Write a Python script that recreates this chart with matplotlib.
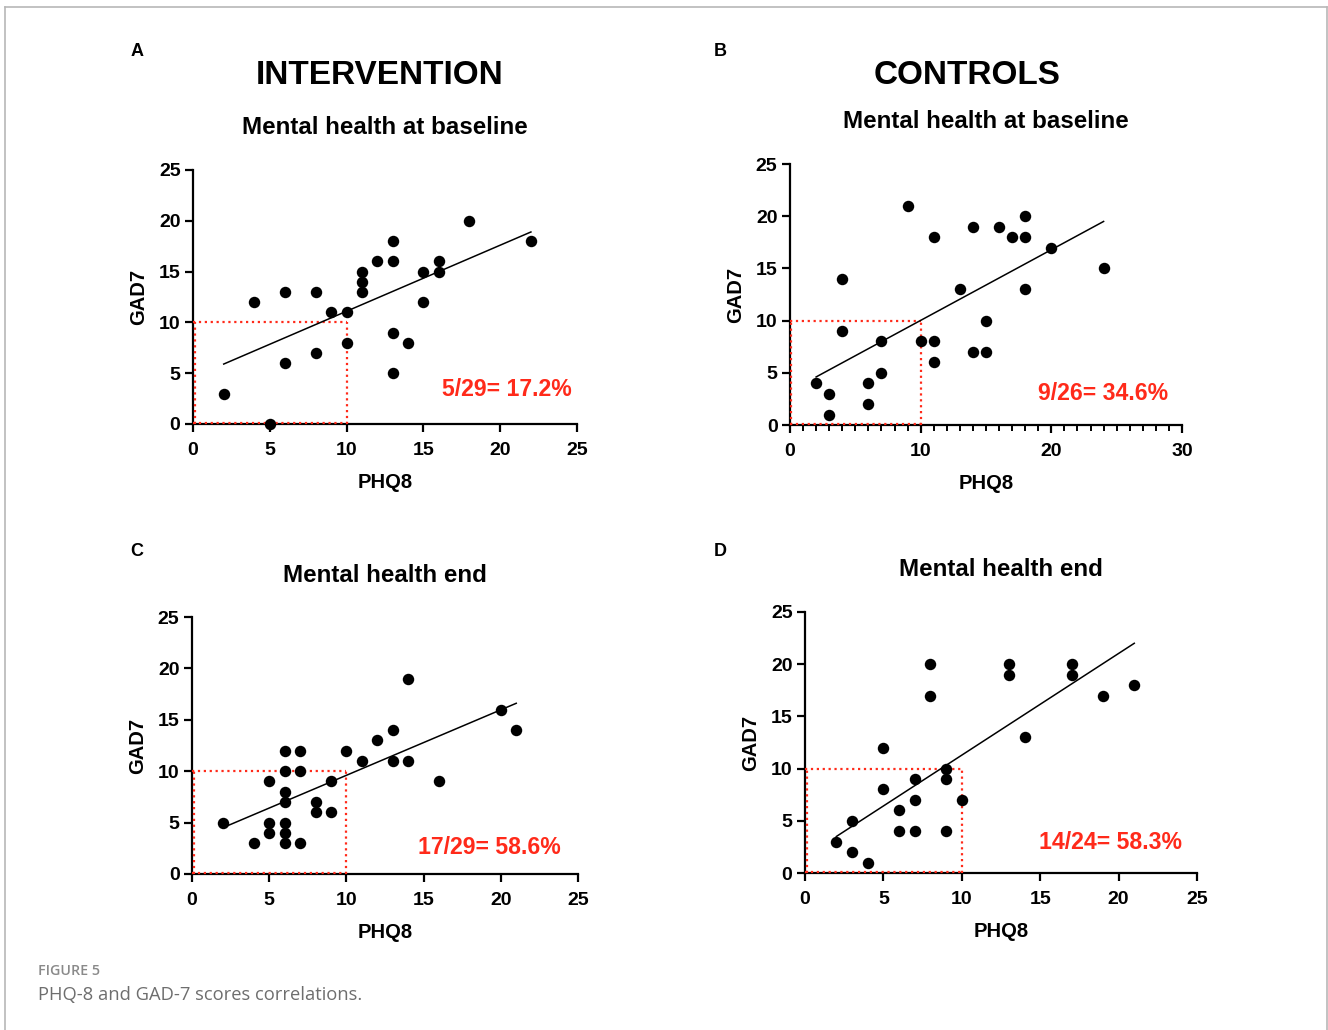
import matplotlib
matplotlib.use("Agg")
import matplotlib.pyplot as plt
from matplotlib.lines import Line2D
from matplotlib.ticker import MultipleLocator
import numpy as np

plt.rcParams['font.family'] = ['Liberation Sans', 'DejaVu Sans']
plt.rcParams['font.weight'] = 'bold'
plt.rcParams['axes.labelweight'] = 'bold'

# ---- data ----
a_x = [2, 4, 5, 6, 6, 8, 8, 9, 10, 10, 11, 11, 11, 12, 13, 13, 13, 13, 14, 15, 15, 16, 16, 18, 22]
a_y = [3, 12, 0, 13, 6, 13, 7, 11, 11, 8, 15, 14, 13, 16, 18, 16, 9, 5, 8, 15, 12, 16, 15, 20, 18]
a_fit = (0.65, 4.6)
a_label = "5/29= 17.2%"

b_x = [2, 3, 3, 4, 4, 6, 6, 7, 7, 9, 10, 11, 11, 11, 13, 14, 14, 15, 15, 16, 17, 18, 18, 18, 20, 24]
b_y = [4, 3, 1, 14, 9, 4, 2, 8, 5, 21, 8, 18, 8, 6, 13, 19, 7, 10, 7, 19, 18, 20, 18, 13, 17, 15]
b_fit = (0.677, 3.25)
b_label = "9/26= 34.6%"

c_x = [2, 4, 5, 5, 5, 6, 6, 6, 6, 6, 6, 6, 7, 7, 7, 8, 8, 9, 9, 10, 11, 12, 13, 13, 14, 14, 16, 20, 21]
c_y = [5, 3, 9, 5, 4, 12, 10, 8, 7, 5, 4, 3, 12, 10, 3, 7, 6, 9, 6, 12, 11, 13, 14, 11, 19, 11, 9, 16, 14]
c_fit = (0.637, 3.23)
c_label = "17/29= 58.6%"

d_x = [2, 3, 3, 4, 5, 5, 6, 6, 7, 7, 7, 8, 8, 9, 9, 9, 10, 13, 13, 14, 17, 17, 19, 21]
d_y = [3, 5, 2, 1, 12, 8, 6, 4, 9, 7, 4, 20, 17, 10, 9, 4, 7, 20, 19, 13, 20, 19, 17, 18]
d_fit = (0.974, 1.55)
d_label = "14/24= 58.3%"

threshold = 10
W, H = 1328, 1030

fig = plt.figure(figsize=(W / 100, H / 100), dpi=100)
fig.patch.set_facecolor('white')

def px_rect(l, r, t, b):
    return [l / W, 1 - b / H, (r - l) / W, (b - t) / H]

panels = [
    (a_x, a_y, a_fit, a_label, px_rect(193, 577, 170, 424), 25, (0.987, 0.134)),
    (b_x, b_y, b_fit, b_label, px_rect(790, 1182, 164, 425), 30, (0.964, 0.119)),
    (c_x, c_y, c_fit, c_label, px_rect(192, 578, 617, 874), 25, (0.956, 0.105)),
    (d_x, d_y, d_fit, d_label, px_rect(805, 1197, 612, 873), 25, (0.962, 0.115)),
]

red = '#ff2a1a'
for xs, ys, fit, lab, rect, xmax, lpos in panels:
    ax = fig.add_axes(rect)
    ax.set_xlim(0, xmax)
    ax.set_ylim(0, 25)
    for s in ['top', 'right']:
        ax.spines[s].set_visible(False)
    for s in ['left', 'bottom']:
        ax.spines[s].set_linewidth(1.6)
    ax.tick_params(axis='both', which='major', direction='out', length=6, width=1.6,
                   labelsize=14)
    ax.tick_params(axis='x', which='major', pad=7)
    ax.tick_params(axis='y', which='major', pad=3)
    ax.xaxis.set_major_locator(MultipleLocator(10 if xmax == 30 else 5))
    ax.yaxis.set_major_locator(MultipleLocator(5))
    if xmax == 30:
        ax.xaxis.set_minor_locator(MultipleLocator(1))
        ax.tick_params(axis='x', which='minor', direction='out', length=4, width=1.4)
    ax.set_xlabel('PHQ8', fontsize=14.5, fontweight='bold', labelpad=10)
    ax.set_ylabel('GAD7', fontsize=14.5, fontweight='bold', labelpad=8)
    # threshold box
    ax.plot([0, threshold], [threshold, threshold], ls=':', color=red, lw=1.6, zorder=3, clip_on=False)
    ax.plot([threshold, threshold], [0, threshold], ls=':', color=red, lw=1.6, zorder=3, clip_on=False)
    ax.plot([0, threshold], [0.1, 0.1], ls=':', color=red, lw=1.6, zorder=3, clip_on=False)
    ax.plot([0.1, 0.1], [0, threshold], ls=':', color=red, lw=1.6, zorder=3, clip_on=False)
    # fit line
    xf = np.array([min(xs), max(xs)])
    ax.plot(xf, fit[0] * xf + fit[1], color='black', lw=1.1, zorder=4)
    ax.scatter(xs, ys, s=68, color='black', zorder=5, clip_on=False, linewidths=0)
    ax.text(lpos[0], lpos[1], lab, transform=ax.transAxes, ha='right', va='center',
            color=red, fontsize=16.6, fontweight='bold')

def ftext(x, y, s, **kw):
    fig.text(x / W, 1 - y / H, s, **kw)

ftext(380, 75, 'INTERVENTION', ha='center', va='center', fontsize=24, fontweight='bold')
ftext(967, 75, 'CONTROLS', ha='center', va='center', fontsize=24, fontweight='bold')
ftext(385, 128, 'Mental health at baseline', ha='center', va='center', fontsize=17.4, fontweight='bold')
ftext(986, 122, 'Mental health at baseline', ha='center', va='center', fontsize=17.4, fontweight='bold')
ftext(385, 575, 'Mental health end', ha='center', va='center', fontsize=17.4, fontweight='bold')
ftext(1001, 570, 'Mental health end', ha='center', va='center', fontsize=17.4, fontweight='bold')
for lx, ly, s in [(137, 52, 'A'), (720, 52, 'B'), (137, 552, 'C'), (720, 552, 'D')]:
    ftext(lx, ly, s, ha='center', va='center', fontsize=13, fontweight='bold')

ftext(38, 971, 'FIGURE 5', ha='left', va='center', fontsize=10.3, color='#8a8a8a',
      family=['Open Sans', 'DejaVu Sans'], fontweight='semibold')
ftext(38, 995, 'PHQ-8 and GAD-7 scores correlations.', ha='left', va='center', fontsize=13.2,
      color='#6e6e6e', family=['Open Sans', 'DejaVu Sans'], fontweight='normal')

# frame
fc = '#b8b8b8'
fig.add_artist(Line2D([4.5 / W, 4.5 / W], [0, 1 - 7 / H], color=fc, lw=1.2, transform=fig.transFigure))
fig.add_artist(Line2D([4.5 / W, 1327 / W], [1 - 7 / H, 1 - 7 / H], color=fc, lw=1.2, transform=fig.transFigure))
fig.add_artist(Line2D([1327 / W, 1327 / W], [0, 1 - 7 / H], color=fc, lw=1.2, transform=fig.transFigure))

fig.savefig('out.png', dpi=100)
